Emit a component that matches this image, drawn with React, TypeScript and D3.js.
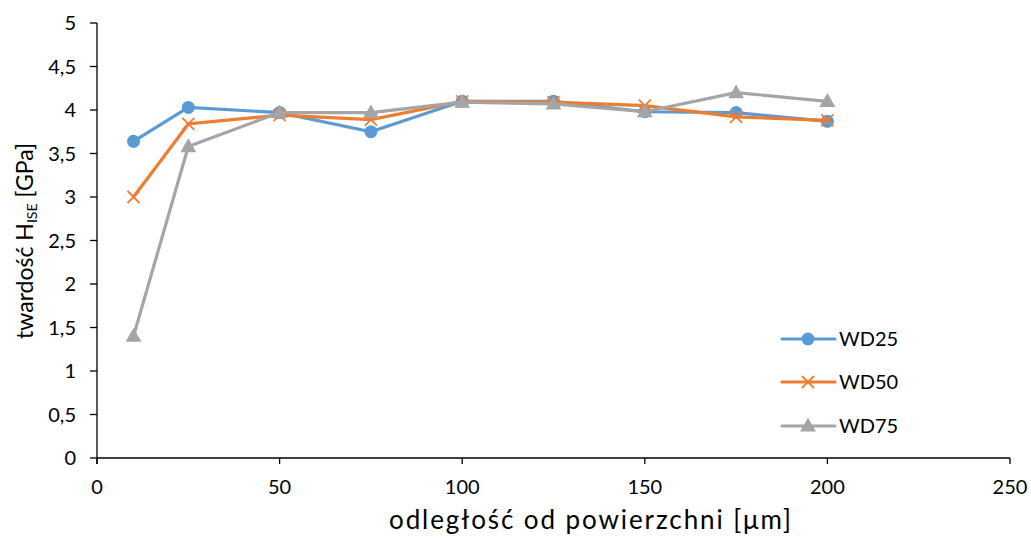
import React from "react";
import * as d3 from "d3";

const xValues = [10, 25, 50, 75, 100, 125, 150, 175, 200];
const wd25 = [3.64, 4.03, 3.97, 3.75, 4.1, 4.1, 3.98, 3.97, 3.87];
const wd50 = [3.0, 3.84, 3.94, 3.89, 4.1, 4.09, 4.05, 3.92, 3.88];
const wd75 = [1.4, 3.58, 3.97, 3.97, 4.09, 4.07, 3.98, 4.2, 4.1];
const seriesNames = ["WD25", "WD50", "WD75"];
const seriesColors = ["#5B9BD5", "#ED7D31", "#A5A5A5"];
const seriesMarkers = ["circle", "x", "triangle"];
const xTicks = [0, 50, 100, 150, 200, 250];
const yTicks = [0, 0.5, 1, 1.5, 2, 2.5, 3, 3.5, 4, 4.5, 5];

const W = 1031;
const H = 539;
const m = { left: 97, right: 1010, top: 23, bottom: 458 };
const FONT = "Lato, 'Open Sans', sans-serif";

function Marker({ type, x, y, color }: { type: string; x: number; y: number; color: string }) {
  if (type === "circle") return <circle cx={x} cy={y} r={6.5} fill={color} />;
  if (type === "x") {
    const s = 6;
    return (
      <g stroke={color} strokeWidth={1.8}>
        <line x1={x - s} y1={y - s} x2={x + s} y2={y + s} />
        <line x1={x - s} y1={y + s} x2={x + s} y2={y - s} />
      </g>
    );
  }
  const p = d3.symbol().type(d3.symbolTriangle).size(110)();
  return <path d={p || ""} transform={`translate(${x},${y + 1})`} fill={color} />;
}

export default function App() {
  const x = d3.scaleLinear().domain([0, 250]).range([m.left, m.right]);
  const y = d3.scaleLinear().domain([0, 5]).range([m.bottom, m.top]);
  const data = [wd25, wd50, wd75];
  const line = d3
    .line<[number, number]>()
    .x((d) => x(d[0]))
    .y((d) => y(d[1]));
  const fmt = (v: number) => String(v).replace(".", ",");
  const legendY = [339, 382, 426];

  return (
    <svg width={W} height={H} style={{ position: "absolute", left: 0, top: 0, background: "#fff" }} fontFamily={FONT}>
      {/* axes */}
      <line x1={m.left} x2={m.left} y1={m.top} y2={m.bottom + 6} stroke="#000" strokeWidth={1.3} />
      <line x1={m.left} x2={m.right} y1={m.bottom} y2={m.bottom} stroke="#000" strokeWidth={1.3} />
      {yTicks.map((t) => (
        <g key={"y" + t}>
          <line x1={m.left - 7} x2={m.left} y1={y(t)} y2={y(t)} stroke="#000" strokeWidth={1.3} />
          <text x={m.left - 21} y={y(t)} dy="0.36em" textAnchor="end" fontSize={20} fill="#000">
            {fmt(t)}
          </text>
        </g>
      ))}
      {xTicks.map((t) => (
        <g key={"x" + t}>
          <line x1={x(t)} x2={x(t)} y1={m.bottom} y2={m.bottom + 6} stroke="#000" strokeWidth={1.3} />
          <text x={x(t)} y={m.bottom + 36} textAnchor="middle" fontSize={20} fill="#000">
            {fmt(t)}
          </text>
        </g>
      ))}
      <text x={590} y={529} textAnchor="middle" fontSize={26} fill="#000" textLength={402} lengthAdjust="spacing">
        odległość od powierzchni [μm]
      </text>
      <text transform={`translate(33,241) rotate(-90)`} textAnchor="middle" fontSize={23} fill="#000">
        twardość H<tspan fontSize={14} dy={4}>ISE</tspan>
        <tspan dy={-4}> [GPa]</tspan>
      </text>
      {/* series */}
      {data.map((vals, i) => {
        const pts = xValues.map((xv, j) => [xv, vals[j]] as [number, number]);
        return (
          <g key={seriesNames[i]}>
            <path d={line(pts) || ""} fill="none" stroke={seriesColors[i]} strokeWidth={3.2} strokeLinejoin="round" strokeLinecap="round" />
            {pts.map((p, j) => (
              <Marker key={j} type={seriesMarkers[i]} x={x(p[0])} y={y(p[1])} color={seriesColors[i]} />
            ))}
          </g>
        );
      })}
      {/* legend */}
      {seriesNames.map((n, i) => (
        <g key={"l" + n}>
          <line x1={782} x2={835} y1={legendY[i]} y2={legendY[i]} stroke={seriesColors[i]} strokeWidth={3.2} strokeLinecap="round" />
          <Marker type={seriesMarkers[i]} x={808} y={legendY[i]} color={seriesColors[i]} />
          <text x={839} y={legendY[i]} dy="0.36em" fontSize={20} fill="#000">
            {n}
          </text>
        </g>
      ))}
    </svg>
  );
}
